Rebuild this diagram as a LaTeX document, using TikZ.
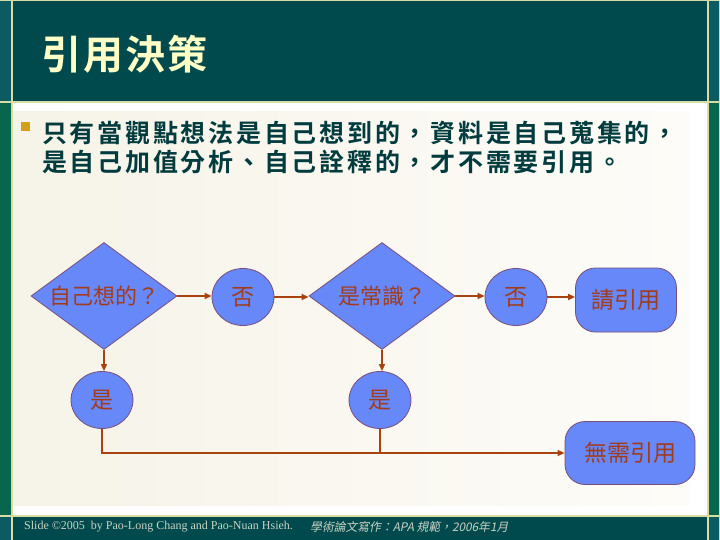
\documentclass[tikz,border=0pt]{standalone}
\usepackage{fontspec}
\usetikzlibrary{shapes.geometric,arrows.meta}
\setmainfont{Liberation Serif}
\newfontfamily\cjk{Noto Sans CJK TC}
\newfontfamily\cjktitle[LetterSpace=5,BoldFont={Noto Sans CJK TC Bold}]{Noto Sans CJK TC}
\newfontfamily\cjkbody[LetterSpace=11,BoldFont={Noto Sans CJK TC Bold}]{Noto Sans CJK TC}
\newfontfamily\cjkit[FakeSlant=0.2]{Noto Sans CJK TC}
\definecolor{band}{HTML}{004A4D}
\definecolor{stripA}{HTML}{0D5B62}
\definecolor{stripB}{HTML}{08664F}
\definecolor{lightln}{HTML}{D5DDA5}
\definecolor{titletxt}{HTML}{FFFFC6}
\definecolor{bodytxt}{HTML}{003B3E}
\definecolor{bulletc}{HTML}{D4A017}
\definecolor{foottxt}{HTML}{C9D3C5}
\definecolor{shapefill}{HTML}{6688F8}
\definecolor{shapeedge}{HTML}{7B4D7B}
\definecolor{shapetxt}{HTML}{A33B1B}
\definecolor{arrowc}{HTML}{A8420F}
\tikzset{
  flow/.style={fill=shapefill, draw=shapeedge, line width=0.8pt, text=shapetxt,
    font=\cjk\fontsize{23}{25}\selectfont, inner sep=0pt},
  dia/.style={flow, diamond, aspect=1.364, minimum width=146, minimum height=107,
    font=\cjk\fontsize{22}{24}\selectfont},
  circ/.style={flow, ellipse, minimum width=62, minimum height=57},
  rbox/.style={flow, rectangle, rounded corners=20pt},
  arr/.style={draw=arrowc, line width=1.3pt, -{Triangle[length=7pt,width=6pt]}},
  ln/.style={draw=arrowc, line width=1.3pt},
}
\begin{document}
\begin{tikzpicture}[x=1pt,y=-1pt]
\useasboundingbox (0,0) rectangle (720,540);
\fill[white] (0,0) rectangle (720,540);
% side strips
\fill[stripA] (0,0) rectangle (12,102);
\fill[stripB] (0,102) rectangle (12,516);
\fill[stripA] (0,516) rectangle (12,540);
\fill[stripA] (708,0) rectangle (720,102);
\fill[stripB] (708,102) rectangle (720,516);
\fill[stripA] (708,516) rectangle (720,540);
% bands
\fill[band] (13,0) rectangle (708,101);
\fill[band] (13,517) rectangle (708,540);
% content cream
\shade[left color={rgb,255:red,246;green,243;blue,232}, right color={rgb,255:red,253;green,252;blue,248}] (13,112) rectangle (690,505);
% light lines
\draw[lightln, line width=1.5pt] (12,0) -- (12,540);
\draw[lightln, line width=1.5pt] (708,0) -- (708,540);
\draw[lightln, line width=1.2pt] (719.4,0) -- (719.4,540);
\draw[lightln, line width=1.5pt] (0,102) -- (720,102);
\draw[lightln, line width=1.5pt] (0,516) -- (720,516);
\draw[lightln, line width=1.2pt] (0,0.6) -- (720,0.6);
% title
\node[anchor=west, inner sep=0pt, text=titletxt, font=\cjktitle\bfseries\fontsize{40}{42}\selectfont] (title) at (41,54) {引用決策};
% bullet
\fill[bulletc] (21,122) rectangle (30,131);
\node[anchor=west, inner sep=0pt, text=bodytxt, font=\cjkbody\bfseries\fontsize{25}{27}\selectfont] (line1) at (42,133) {只有當觀點想法是自己想到的，資料是自己蒐集的，};
\node[anchor=west, inner sep=0pt, text=bodytxt, font=\cjkbody\bfseries\fontsize{25}{27}\selectfont] (line2) at (42,162) {是自己加值分析、自己詮釋的，才不需要引用。};
% flowchart
\node[dia] (d1) at (104,296) {自己想的？};
\node[circ] (n1) at (243,297) {否};
\node[dia] (d2) at (382,296) {是常識？};
\node[circ] (n2) at (516,297) {否};
\node[rbox, minimum width=101, minimum height=64] (cite) at (626,300) {請引用};
\node[circ] (y1) at (102,400) {是};
\node[circ] (y2) at (380,400) {是};
\node[rbox, minimum width=130, minimum height=63] (need) at (630,453) {無需引用};
\draw[arr] (d1.east) -- (d1.east -| n1.west);
\draw[arr] (n1.east) -- (n1.east -| d2.west);
\draw[arr] (d2.east) -- (d2.east -| n2.west);
\draw[arr] (n2.east) -- (n2.east -| cite.west);
\draw[arr] (d1.south) -- (d1.south |- y1.north);
\draw[arr] (d2.south) -- (d2.south |- y2.north);
\draw[arr] (y1.south) |- (need.west);
\draw[ln] (y2.south) -- (y2.south |- need.west);
% footer
\node[anchor=west, inner sep=0pt, text=foottxt, font=\fontsize{12}{14}\selectfont] (foot1) at (24,527) {Slide ©2005\ \ by Pao-Long Chang and Pao-Nuan Hsieh.};
\node[anchor=west, inner sep=0pt, text=foottxt, font=\cjkit\fontsize{11.8}{14}\selectfont] (foot2) at (310,527) {學術論文寫作：APA 規範，2006年1月};
\end{tikzpicture}
\end{document}
